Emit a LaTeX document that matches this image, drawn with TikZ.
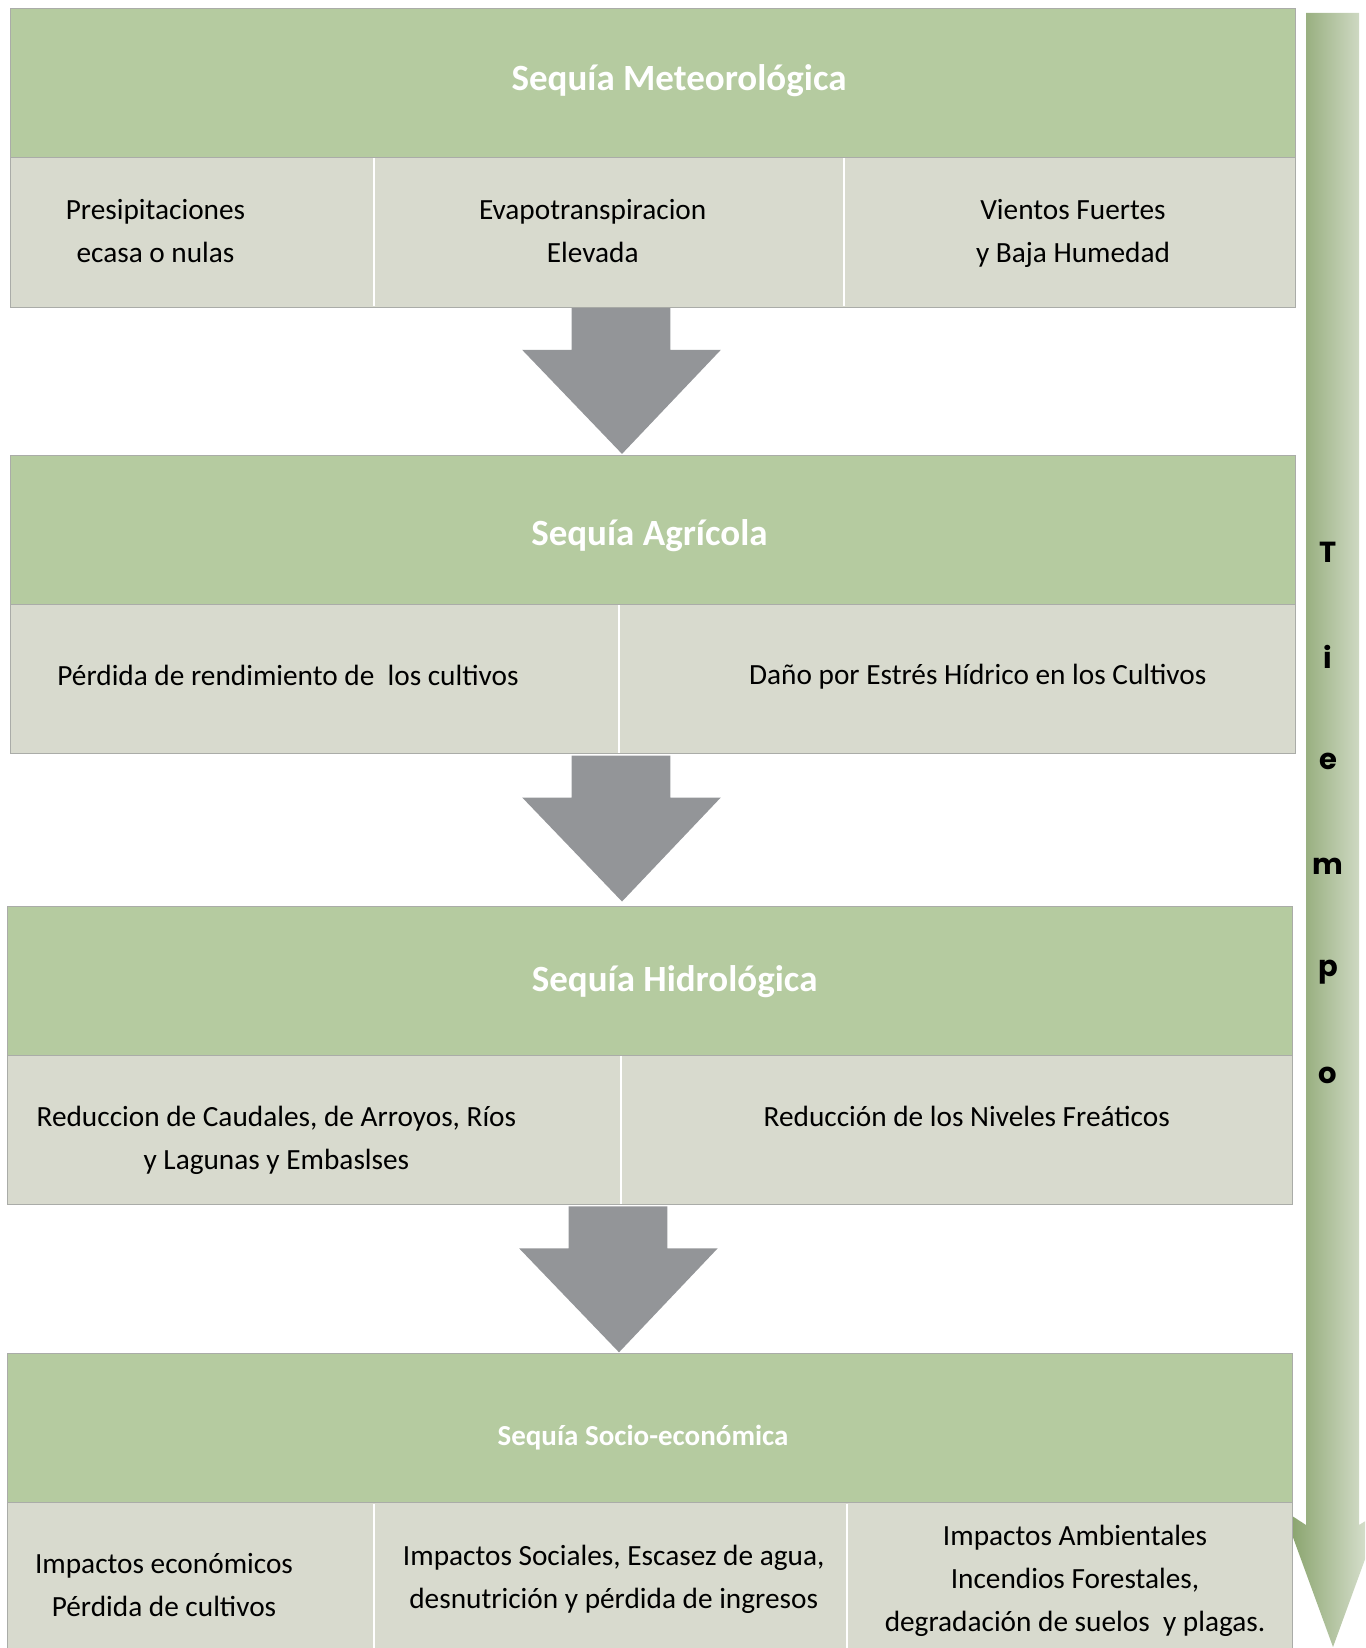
\documentclass[tikz,border=0pt]{standalone}
\usepackage{fontspec}
\setmainfont{Carlito}
\newfontfamily\tiempofont{Poppins}
\definecolor{headgreen}{RGB}{181,203,160}
\definecolor{cellgray}{RGB}{216,218,206}
\definecolor{edgegray}{RGB}{170,172,168}
\definecolor{arrowgray}{RGB}{147,149,152}
\definecolor{timedark}{RGB}{130,158,100}
\definecolor{timelight}{RGB}{230,235,224}

\begin{document}
\begin{tikzpicture}[x=1pt,y=-1pt,
    title/.style={text=white,font=\fontsize{37}{44}\selectfont\bfseries},
    smalltitle/.style={text=white,font=\fontsize{29}{34}\selectfont\bfseries},
    cell/.style={align=center,font=\fontsize{29.3}{43}\selectfont},
    tletter/.style={font=\tiempofont\fontsize{29}{34}\selectfont\bfseries}]
		\useasboundingbox (0,0) rectangle (1365,1648);
		\clip (0,0) rectangle (1365,1648);

		% --- time arrow (right) ---
		\shade[left color=timedark, right color=timelight]
			(1306,13) -- (1359,13) -- (1359,1525) -- (1383,1510) -- (1333,1647)
			-- (1283,1510) -- (1306,1525) -- cycle;

		% --- block 1: meteorologica ---
		\fill[headgreen] (10.5,8.4) rectangle (1295.6,157.6);
		\fill[cellgray] (10.5,157.6) rectangle (1295.6,306.8);
		\draw[edgegray] (10.5,8.4) rectangle (1295.6,306.8);
		\draw[edgegray] (10.5,157.6) -- (1295.6,157.6);
		\draw[white, line width=2.5] (374,158.5) -- (374,306.3);
		\draw[white, line width=2.5] (844,158.5) -- (844,306.3);

		% --- block 2: agricola ---
		\fill[headgreen] (10.5,455) rectangle (1295.6,604.2);
		\fill[cellgray] (10.5,604.2) rectangle (1295.6,753.4);
		\draw[edgegray] (10.5,455) rectangle (1295.6,753.4);
		\draw[edgegray] (10.5,604.2) -- (1295.6,604.2);
		\draw[white, line width=2.5] (619,605.1) -- (619,752.9);

		% --- block 3: hidrologica ---
		\fill[headgreen] (7.4,905.8) rectangle (1292.5,1055);
		\fill[cellgray] (7.4,1055) rectangle (1292.5,1204.2);
		\draw[edgegray] (7.4,905.8) rectangle (1292.5,1204.2);
		\draw[edgegray] (7.4,1055) -- (1292.5,1055);
		\draw[white, line width=2.5] (621,1055.9) -- (621,1203.7);

		% --- block 4: socio-economica ---
		\fill[headgreen] (7.4,1353.4) rectangle (1292.5,1502.6);
		\fill[cellgray] (7.4,1502.6) rectangle (1292.5,1652);
		\draw[edgegray] (7.4,1353.4) rectangle (1292.5,1652);
		\draw[edgegray] (7.4,1502.6) -- (1292.5,1502.6);
		\draw[white, line width=2.5] (374,1503.5) -- (374,1652);
		\draw[white, line width=2.5] (847,1503.5) -- (847,1652);

		% --- block arrows ---
		\fill[arrowgray] (571.6,307.9) -- (670.4,307.9) -- (670.4,349.9) -- (720.8,349.9)
			-- (622,453.9) -- (522.2,349.9) -- (571.6,349.9) -- cycle;
		\fill[arrowgray] (571.6,755.5) -- (670.4,755.5) -- (670.4,797.5) -- (720.8,797.5)
			-- (622,901.5) -- (522.2,797.5) -- (571.6,797.5) -- cycle;
		\fill[arrowgray] (568.5,1206.3) -- (667.3,1206.3) -- (667.3,1248.3) -- (717.7,1248.3)
			-- (619,1352.3) -- (519.1,1248.3) -- (568.5,1248.3) -- cycle;

		% --- titles ---
		\node[title] (met) at (679,81) {Sequía Meteorológica};
		\node[title] (agr) at (649.4,536) {Sequía Agrícola};
		\node[title] (hid) at (674.6,981.5) {Sequía Hidrológica};
		\node[smalltitle] (soc) at (643,1437.5) {Sequía Socio-económica};

		% --- cell texts ---
		\node[cell] (met1) at (155.5,231.5) {Presipitaciones\\ecasa o nulas};
		\node[cell] (met2) at (592.7,231.5) {Evapotranspiracion\\Elevada};
		\node[cell] (met3) at (1073,233) {Vientos Fuertes\\y Baja Humedad};

		\node[cell] (agr1) at (288,675.5) {Pérdida de rendimiento de\ \ los cultivos};
		\node[cell] (agr2) at (977.8,676.5) {Daño por Estrés Hídrico en los Cultivos};

		\node[cell] (hid1) at (276.4,1140.5) {Reduccion de Caudales, de Arroyos, Ríos\\y Lagunas y Embaslses};
		\node[cell] (hid2) at (966.7,1116.5) {Reducción de los Niveles Freáticos};

		\node[cell] (soc1) at (164,1585.5) {Impactos económicos\\Pérdida de cultivos};
		\node[cell] (soc2) at (613.7,1579.5) {Impactos Sociales, Escasez de agua,\\desnutrición y pérdida de ingresos};
		\node[cell] (soc3) at (1075,1581) {Impactos Ambientales\\Incendios Forestales,\\degradación de suelos\ \ y plagas.};

		% --- tiempo ---
		\node[tletter] (t1) at (1328,552.5) {T};
		\node[tletter] (t2) at (1328,656.5) {i};
		\node[tletter] (t3) at (1328,761.5) {e};
		\node[tletter] (t4) at (1328,866.5) {m};
		\node[tletter] (t5) at (1328,972) {p};
		\node[tletter] (t6) at (1328,1075) {o};
	\end{tikzpicture}
\end{document}
